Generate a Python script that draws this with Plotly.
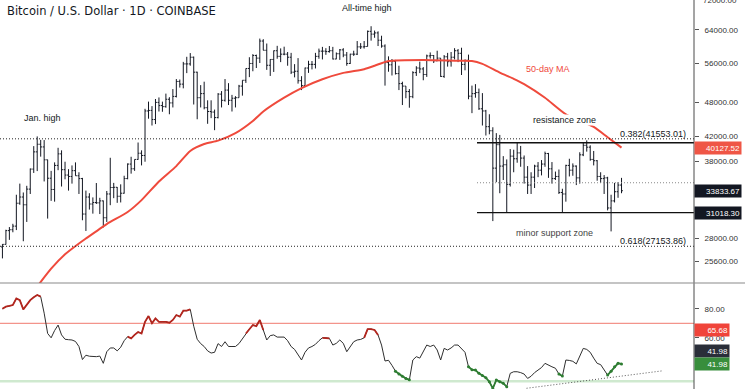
import math
import pandas as pd
import plotly.graph_objects as go

# ---------------- data ----------------
START = "2020-12-29"   # first daily bar

opens = [27080, 27360, 28890, 28990, 29410, 32200, 33000, 32000, 34050, 36860,
         39460, 40670, 40240, 38240, 35550, 34000, 37400, 39150, 36770, 36000,
         35800, 36630, 35900, 35500, 30850, 33000, 32100, 32290, 32250, 32500,
         30400, 33400, 34270, 34300, 33100, 33500, 35500, 37600, 36900, 38300,
         39250, 38900, 46400, 46500, 44850, 48000, 47400, 47200, 48600, 47900,
         49150, 52150, 51600, 55900, 55900, 57400, 54100, 48900, 49700, 47000,
         46300, 46200, 45200, 49600, 48400, 50400, 48400, 48800, 48900, 51200,
         52400, 54900, 56000, 57800, 57200, 61200, 59000, 55600, 56900, 58900,
         57600, 58100, 58100, 57400, 54100, 54300, 52300, 51300, 55000, 55800,
         55800, 57600, 58800, 58800, 58700, 58900, 57000, 58200, 59100, 57900,
         56000, 58100, 58100, 59800, 59800, 59900, 63600, 62900, 63200, 61400,
         60000, 56200, 55700, 56500, 53800, 51700, 51200, 50100, 49100, 54000,
         55000, 54800, 53600, 57700, 57800, 56600, 57200, 53200, 57500, 56400,
         57400, 58900, 58300, 55800, 56700, 49200, 49700, 49900, 46800, 46400,
         43600, 42900, 37000, 40600, 37300, 37500, 34700, 38800, 38400, 39300,
         38500, 35700, 34600, 35700, 37300, 36700, 37600, 39200, 36900, 35500,
         35800, 33600, 33400, 37400, 36700, 37300, 35600, 39000, 40500, 40200,
         38300, 38100, 35800, 35500, 35600, 31600, 32500, 33700, 34600]
highs = [27380, 28990, 29300, 29680, 33300, 34800, 33600, 34500, 36950, 40370,
         41950, 41380, 41350, 38260, 36600, 37850, 40100, 39700, 37950, 36850,
         37400, 37850, 36400, 35600, 33850, 33500, 32950, 34880, 32900, 32550,
         33800, 38550, 34900, 34330, 34700, 35900, 37700, 38700, 38300, 40950,
         39700, 46800, 48150, 47300, 48650, 48950, 48150, 49700, 49000, 50600,
         52650, 52550, 56350, 57500, 58350, 57550, 54200, 51400, 52100, 48400,
         48400, 46650, 49800, 50200, 52650, 51800, 49450, 49200, 51450, 52400,
         54900, 57400, 58100, 58000, 61800, 61650, 60600, 56950, 58950, 60050,
         59450, 59850, 58600, 58400, 55850, 57200, 53250, 55100, 56600, 56550,
         58400, 59400, 59800, 59500, 60000, 59800, 58500, 59300, 59500, 58600,
         58200, 58900, 61200, 60700, 61200, 63800, 64900, 63800, 63600, 62500,
         60400, 57600, 57000, 56800, 55500, 52100, 51200, 50600, 54300, 55400,
         56400, 55200, 58000, 58500, 57900, 58900, 57200, 57900, 58400, 58600,
         59500, 59300, 59600, 56900, 58000, 51300, 51600, 50700, 49800, 46600,
         45800, 43500, 42500, 42200, 38800, 38300, 39900, 39800, 40900, 40400,
         38900, 37300, 36400, 37500, 37900, 38200, 39500, 39300, 37900, 36500,
         36800, 34100, 37500, 38400, 37700, 37400, 39400, 41000, 41300, 40500,
         39600, 38200, 36400, 36000, 35750, 33300, 34900, 35000, 35600]
lows = [25880, 27340, 27850, 28700, 28950, 32000, 27700, 29900, 33400, 36300,
        36570, 38720, 35100, 30300, 32500, 32400, 36700, 34400, 35400, 33850,
        34800, 35900, 33400, 30100, 28850, 31400, 30900, 32100, 30850, 29250,
        29900, 31950, 32850, 32250, 32300, 33450, 35400, 36200, 36600, 38250,
        37400, 37950, 45000, 43800, 44050, 46300, 46250, 47000, 45800, 47050,
        48950, 50900, 50750, 53900, 55500, 47600, 44900, 47050, 46700, 44100,
        45100, 43000, 45050, 47050, 48150, 47500, 46300, 47050, 48900, 49300,
        51850, 53050, 54300, 55000, 56100, 59000, 54600, 53300, 54150, 57050,
        56300, 57850, 55500, 53700, 53000, 51700, 50400, 51300, 53950, 54700,
        54900, 57050, 56900, 57950, 58450, 56900, 56950, 56800, 57400, 55500,
        55900, 57700, 57900, 59300, 59400, 59900, 61300, 62000, 60000, 59600,
        51300, 54200, 53400, 53600, 50400, 47500, 48800, 47000, 48800, 53300,
        53900, 52400, 53100, 57100, 56100, 56500, 53100, 52900, 55300, 55300,
        56900, 56300, 53500, 54500, 48600, 46000, 48900, 46600, 43800, 42100,
        42300, 30000, 35000, 33500, 35300, 31100, 34400, 36400, 37800, 37200,
        34800, 33400, 33400, 34200, 35700, 35950, 37200, 35600, 34800, 35300,
        33400, 31000, 32400, 35800, 35900, 34600, 34800, 38800, 39500, 38100,
        37400, 35200, 34900, 33400, 31300, 28800, 32300, 32900, 33500]
closes = [27360, 28890, 28990, 29410, 32200, 33000, 32000, 34050, 36860, 39460,
          40670, 40240, 38240, 35550, 34000, 37400, 39150, 36770, 36000, 35800,
          36630, 35900, 35500, 30850, 33000, 32100, 32290, 32250, 32500, 30400,
          33400, 34270, 34300, 33100, 33500, 35500, 37600, 36900, 38300, 39250,
          38900, 46400, 46500, 44850, 48000, 47400, 47200, 48600, 47900, 49150,
          52150, 51600, 55900, 55900, 57400, 54100, 48900, 49700, 47000, 46300,
          46200, 45200, 49600, 48400, 50400, 48400, 48800, 48900, 51200, 52400,
          54900, 56000, 57800, 57200, 61200, 59000, 55600, 56900, 58900, 57600,
          58100, 58100, 57400, 54100, 54300, 52300, 51300, 55000, 55800, 55800,
          57600, 58800, 58800, 58700, 58900, 57000, 58200, 59100, 57900, 56000,
          58100, 58100, 59800, 59800, 59900, 63600, 62900, 63200, 61400, 60000,
          56200, 55700, 56500, 53800, 51700, 51200, 50100, 49100, 54000, 55000,
          54800, 53600, 57700, 57800, 56600, 57200, 53200, 57500, 56400, 57400,
          58900, 58300, 55800, 56700, 49200, 49700, 49900, 46800, 46400, 43600,
          42900, 37000, 40600, 37300, 37500, 34700, 38800, 38400, 39300, 38500,
          35700, 34600, 35700, 37300, 36700, 37600, 39200, 36900, 35500, 35800,
          33600, 33400, 37400, 36700, 37300, 35600, 39000, 40500, 40200, 38300,
          38100, 35800, 35500, 35600, 31600, 32500, 33700, 34600, 33833.67]

# 50-day moving average, read at day offsets from START
ma_day = [10, 14, 18, 22, 24, 30, 36, 40, 45, 50, 54, 58, 62, 67, 72, 75, 81, 86,
          92, 98, 104, 107, 111, 121, 131, 135, 138, 143, 147, 150, 156, 162, 170,
          174, 178]
ma_value = [23150, 24850, 26300, 27450, 28000, 29650, 31100, 32600, 35100, 37300,
            39600, 40700, 41250, 42500, 44600, 46300, 48900, 50800, 52600, 53950,
            54750, 55500, 56550, 56800, 56600, 56550, 55900, 54000, 52700, 51600,
            48900, 45800, 43550, 41800, 40127.52]

# RSI (one value per daily bar)
rsi = [80, 81.5, 82, 82.6, 87.2, 86, 79.6, 82.6, 86, 88,
       89.5, 88.4, 77, 63, 60, 65, 68.8, 62, 59, 58.7,
       58.5, 57.5, 54, 45, 48, 47.3, 47.1, 47, 47.4, 42.4,
       50.4, 53, 53, 51, 53.5, 58, 60.8, 59.6, 62, 64,
       63, 71, 75, 70, 73.4, 71, 71, 71, 70.4, 72.3,
       75.7, 74.6, 78.7, 78.7, 79.6, 68, 59, 56, 54, 51,
       49.5, 50, 56, 54, 57.3, 54, 54, 54, 56, 59.6,
       63, 66, 68.8, 68.1, 72.3, 65.4, 58.5, 61.5, 62, 60.5,
       60.3, 60.5, 58, 54, 52, 48, 44.7, 50, 53, 54,
       55.5, 58, 60, 60, 59.6, 55, 56.2, 58.5, 56.2, 50.4,
       54, 57.3, 58.5, 58.9, 60, 66, 66, 65.4, 62, 55,
       44, 44.5, 41, 37, 35, 33.5, 32, 31, 44.7, 47,
       46, 50, 55, 54, 55, 51.6, 44.7, 52.7, 51.6, 53,
       55, 55, 52.7, 50, 40, 38, 37.8, 35.5, 34, 32.5,
       29.7, 25.1, 30.9, 29.7, 28.6, 26.3, 35.5, 36.6, 36.6, 36,
       35, 32, 33.5, 36, 37.8, 39.5, 42.4, 41, 40, 39,
       35, 33.6, 44.7, 44.4, 43.8, 42, 47, 52.7, 52, 50,
       46, 42.4, 41.5, 38, 34.3, 37, 40, 42.4, 41.98]
rsi_strong_spans = [(0, 11), (36, 54), (70, 75), (92, 94), (104, 108)]
rsi_weak_spans = [(113, 117), (134, 145), (160, 161), (174, 178)]
rsi_trend_day = [150.7, 190.0]
rsi_trend_value = [25.2, 37.3]

price_ticks = [25600, 28000, 38000, 42000, 48000, 56000, 64000]
price_top_tick = 72000
rsi_ticks = [60, 80]

fib_382 = 41553.01
fib_618 = 27153.86
zone_top = 40910
zone_bottom = 31018.30
zone_mid = 34920
zone_start_day = 136.45
ma_last = 40127.52
last_close = 33833.67
rsi_upper, rsi_lower = 70, 30
rsi_badge_a = 65.68
rsi_last = 41.98

# ---------------- helpers ----------------
t0 = pd.Timestamp(START)


def day(i):
    return t0 + pd.Timedelta(days=i)


n = min(len(opens), len(highs), len(lows), len(closes), len(rsi))
dates = [day(i) for i in range(n)]
X0, X1 = day(-0.70), day(198.84)

W, H = 745, 389
AX_X = 694 / W
SPLIT = 1 - 283 / H
FONT = "Liberation Sans"
INK = "#131722"
RED = "#ef4a3c"
DOTS = "1px,2px"

fig = go.Figure()

fig.add_trace(go.Ohlc(
    x=dates, open=opens[:n], high=highs[:n], low=lows[:n], close=closes[:n],
    increasing=dict(line=dict(color=INK, width=1)),
    decreasing=dict(line=dict(color=INK, width=1)),
    tickwidth=0.4, xaxis="x", yaxis="y", hoverinfo="skip"))

fig.add_trace(go.Scatter(
    x=[day(i) for i in ma_day], y=ma_value, mode="lines",
    line=dict(color=RED, width=2, shape="spline", smoothing=0.6),
    xaxis="x", yaxis="y", hoverinfo="skip"))


def hline(y, x0, x1, color, width, dash, xa="x", ya="y"):
    fig.add_trace(go.Scatter(x=[x0, x1], y=[y, y], mode="lines",
                             line=dict(color=color, width=width, dash=dash),
                             xaxis=xa, yaxis=ya, hoverinfo="skip"))


hline(fib_382, X0, X1, "#222222", 1, DOTS)
hline(fib_618, X0, X1, "#222222", 1, DOTS)
hline(zone_mid, day(zone_start_day), X1, "#8a8a8a", 1, DOTS)
hline(zone_top, day(zone_start_day), X1, "#111111", 1.3, "solid")
hline(zone_bottom, day(zone_start_day), X1, "#111111", 1.3, "solid")

# RSI pane
hline(rsi_upper, X0, X1, "#f07a6e", 1, "solid", "x2", "y2")
hline(rsi_lower, X0, X1, "#cfe9cf", 2.5, "solid", "x2", "y2")
fig.add_trace(go.Scatter(x=dates, y=rsi[:n], mode="lines",
                         line=dict(color="#2f2f2f", width=1),
                         xaxis="x2", yaxis="y2", hoverinfo="skip"))
for a, b in rsi_strong_spans:
    fig.add_trace(go.Scatter(x=dates[a:b + 1], y=rsi[a:b + 1], mode="lines",
                             line=dict(color="#b3261e", width=1.8),
                             xaxis="x2", yaxis="y2", hoverinfo="skip"))
for a, b in rsi_weak_spans:
    fig.add_trace(go.Scatter(x=dates[a:b + 1], y=rsi[a:b + 1], mode="lines+markers",
                             marker=dict(size=3, color="#2e7d32"),
                             line=dict(color="#2e7d32", width=1.8),
                             xaxis="x2", yaxis="y2", hoverinfo="skip"))
fig.add_trace(go.Scatter(x=[day(d) for d in rsi_trend_day], y=rsi_trend_value,
                         mode="lines", line=dict(color="#555555", width=1, dash=DOTS),
                         xaxis="x2", yaxis="y2", hoverinfo="skip"))

TICKFONT = dict(family=FONT, size=8, color="#333333")
axis_common = dict(side="right", ticks="outside", ticklen=4, tickcolor="#555555",
                   tickfont=TICKFONT, showgrid=False, zeroline=False, showline=False,
                   ticklabelstandoff=4)

LOG_TOP = math.log10(price_top_tick)
LOG_BOTTOM = LOG_TOP - 283 / 581.5

fig.update_layout(
    width=W, height=H, margin=dict(l=0, r=0, t=0, b=0, pad=0),
    paper_bgcolor="white", plot_bgcolor="white", showlegend=False,
    xaxis=dict(domain=[0, AX_X], range=[X0, X1], visible=False, anchor="y",
               rangeslider=dict(visible=False)),
    xaxis2=dict(domain=[0, AX_X], range=[X0, X1], visible=False, anchor="y2",
                matches="x"),
    yaxis=dict(domain=[SPLIT, 1], type="log", anchor="x",
               range=[LOG_BOTTOM, LOG_TOP],
               tickvals=price_ticks, ticktext=[f"{v:.2f}" for v in price_ticks],
               **axis_common),
    yaxis2=dict(domain=[0, SPLIT], range=[24.7, 97.8], anchor="x2",
                tickvals=rsi_ticks, ticktext=[f"{v:.2f}" for v in rsi_ticks],
                **axis_common),
)

shapes = [
    dict(type="line", xref="paper", yref="paper", x0=AX_X, x1=AX_X, y0=0, y1=1,
         line=dict(color="#4a4a4a", width=1)),
    dict(type="line", xref="paper", yref="paper", x0=0, x1=1, y0=SPLIT, y1=SPLIT,
         line=dict(color="#8a8a8a", width=1.2)),
]
fig.update_layout(shapes=shapes)

L = math.log10
ann = []


def text(t, x, y, color=INK, size=9, xanchor="center", bg=None, ya="y", xa="x"):
    d = dict(text=t, x=x, y=y, xref=xa, yref=ya, showarrow=False,
             xanchor=xanchor, yanchor="middle",
             font=dict(family=FONT, size=size, color=color))
    if bg:
        d["bgcolor"] = bg
        d["borderpad"] = 0
    ann.append(d)


ann.append(dict(text="Bitcoin / U.S. Dollar · 1D · COINBASE", x=5 / W, y=1 - 11 / H,
                xref="paper", yref="paper", showarrow=False, xanchor="left",
                yanchor="middle", font=dict(family="DejaVu Sans", size=11.5, color=INK)))
# top tick label of the price axis, half cut by the top edge as in the reference
ann.append(dict(text=f"{price_top_tick:.2f}", x=AX_X, y=L(price_top_tick),
                xref="paper", yref="y", showarrow=False, xanchor="left",
                yanchor="middle", xshift=7, font=TICKFONT))
text("Jan. high", day(11.66), L(45040))
text("All-time high", day(104.83), L(69790))
text("50-day MA", day(156.86), L(54680), color=RED)
text("resistance zone", day(161.61), L(44780), bg="white")
text("0.382(41553.01)", day(197.1), L(42370), xanchor="right")
text("minor support zone", day(158.73), L(28610), color="#444444")
text("0.618(27153.86)", day(197.1), L(27720), xanchor="right")


def badge(t, y, bg, ya, w):
    ann.append(dict(text=t, x=AX_X, y=y, xref="paper", yref=ya, showarrow=False,
                    xanchor="left", yanchor="middle", align="right",
                    width=w, height=10, borderpad=1, bgcolor=bg,
                    font=dict(family=FONT, size=8, color="white")))


badge(f"{ma_last:.2f}", L(ma_last), "#ef5646", "y", 44)
badge(f"{last_close:.2f}", L(last_close), INK, "y", 44)
badge(f"{zone_bottom:.2f}", L(zone_bottom), INK, "y", 44)
badge(f"{rsi_badge_a:.2f}", rsi_badge_a, "#f0443a", "y2", 32)
badge(f"{rsi_last:.2f}", 50.9, "#2a2e39", "y2", 32)
badge(f"{rsi_last:.2f}", rsi_last, "#388e3c", "y2", 32)

fig.update_layout(annotations=ann)

fig.write_html("out.html",
               config={"displayModeBar": False},
               post_script="document.body.style.margin='0';"
                           "document.documentElement.style.overflow='hidden';")
